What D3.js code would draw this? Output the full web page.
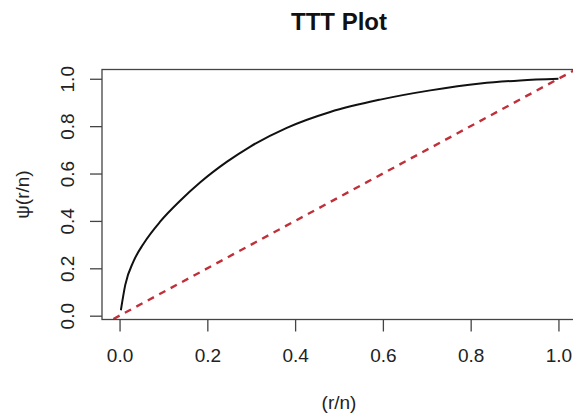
<!DOCTYPE html>
<html>
<head>
<meta charset="utf-8">
<script src="https://cdn.jsdelivr.net/npm/d3@7"></script>
<style>
  body { margin: 0; background: #fff; }
  svg { display: block; font-family: "Liberation Sans", Arial, sans-serif; }
</style>
</head>
<body>
<script>
// TTT curve
var rn  = [0.003, 0.013, 0.032, 0.055, 0.093, 0.138, 0.184, 0.245, 0.298, 0.381, 0.480, 0.594, 0.708, 0.822, 0.913, 1.000];
var psi = [0.023, 0.130, 0.230, 0.305, 0.398, 0.485, 0.563, 0.650, 0.714, 0.793, 0.860, 0.912, 0.951, 0.980, 0.993, 1.000];
var xTicks = [0, 0.2, 0.4, 0.6, 0.8, 1.0];
var yTicks = [0, 0.2, 0.4, 0.6, 0.8, 1.0];
// reference line y = a + b*x
var refA = 0, refB = 1;

var W = 573, H = 413;
var box = {left: 102, right: 576, top: 69.5, bottom: 319.5};

// R style 4% padding on the data range
function pad(ext) { var d = (ext[1] - ext[0]) * 0.04; return [ext[0] - d, ext[1] + d]; }

var x = d3.scaleLinear().domain(pad([0, 1])).range([box.left, box.right]);
var y = d3.scaleLinear().domain(pad(d3.extent(psi))).range([box.bottom, box.top]);

var svg = d3.select("body").append("svg").attr("width", W).attr("height", H);

svg.append("clipPath").attr("id", "clip")
  .append("rect")
    .attr("x", box.left).attr("y", box.top)
    .attr("width", box.right - box.left).attr("height", box.bottom - box.top);

var pts = rn.map(function(v, i) { return [v, psi[i]]; });

var line = d3.line()
  .x(function(d) { return x(d[0]); })
  .y(function(d) { return y(d[1]); })
  .curve(d3.curveMonotoneX);

// dashed diagonal
var xd = x.domain();
svg.append("path")
  .attr("clip-path", "url(#clip)")
  .attr("d", d3.line()([[x(xd[0]), y(refA + refB * xd[0])], [x(xd[1]), y(refA + refB * xd[1])]]))
  .attr("fill", "none")
  .attr("stroke", "#c0303a")
  .attr("stroke-width", 2.4)
  .attr("stroke-dasharray", "7,6");

svg.append("path")
  .datum(pts)
  .attr("clip-path", "url(#clip)")
  .attr("d", line)
  .attr("fill", "none")
  .attr("stroke", "#111")
  .attr("stroke-width", 2);

// box
svg.append("rect")
  .attr("x", box.left).attr("y", box.top)
  .attr("width", box.right - box.left).attr("height", box.bottom - box.top)
  .attr("fill", "none").attr("stroke", "#444").attr("stroke-width", 1.3);

// x axis
var gx = svg.append("g").attr("transform", "translate(0," + box.bottom + ")")
  .call(d3.axisBottom(x).tickValues(xTicks).tickSize(12).tickPadding(17)
        .tickFormat(d3.format(".1f")));
gx.select(".domain").remove();
gx.selectAll("line").attr("stroke", "#444").attr("stroke-width", 1.3);
gx.selectAll("text").attr("font-size", 19).attr("fill", "#222");

// y axis, labels turned like R's las=0
var gy = svg.append("g").attr("transform", "translate(" + box.left + ",0)")
  .call(d3.axisLeft(y).tickValues(yTicks).tickSize(12).tickFormat(d3.format(".1f")));
gy.select(".domain").remove();
gy.selectAll("line").attr("stroke", "#444").attr("stroke-width", 1.3);
gy.selectAll("text")
  .attr("font-size", 19).attr("fill", "#222")
  .attr("x", null).attr("y", null).attr("dy", null)
  .attr("text-anchor", "middle")
  .attr("transform", "translate(-28,0) rotate(-90)");

// titles
svg.append("text")
  .attr("x", (box.left + box.right) / 2).attr("y", 30)
  .attr("text-anchor", "middle")
  .attr("font-size", 24).attr("font-weight", "bold").attr("fill", "#111")
  .text("TTT Plot");

svg.append("text")
  .attr("x", (box.left + box.right) / 2).attr("y", 408.5)
  .attr("text-anchor", "middle")
  .attr("font-size", 19).attr("fill", "#222")
  .text("(r/n)");

svg.append("text")
  .attr("transform", "translate(29," + (box.top + box.bottom) / 2 + ") rotate(-90)")
  .attr("text-anchor", "middle")
  .attr("font-size", 19).attr("fill", "#222")
  .text("ψ(r/n)");
</script>
</body>
</html>
